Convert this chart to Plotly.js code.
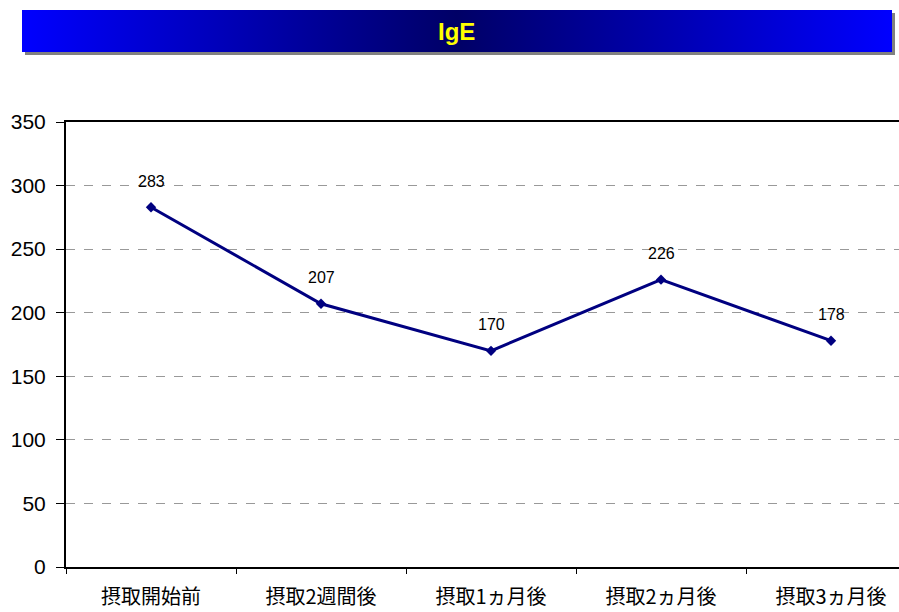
<!DOCTYPE html>
<html>
<head>
<meta charset="utf-8">
<script src="https://cdn.plot.ly/plotly-3.0.1.min.js"></script>
<style>html,body{margin:0;padding:0;background:#fff;}#chart{width:899px;height:612px;}</style>
</head>
<body>
<div id="chart"></div>
<script>
const categories = ["摂取開始前", "摂取2週間後", "摂取1ヵ月後", "摂取2ヵ月後", "摂取3ヵ月後"];
const values = [283, 207, 170, 226, 178];
const yTicks = [0, 50, 100, 150, 200, 250, 300, 350];
const titleText = "IgE";

const svg = '<svg xmlns="http://www.w3.org/2000/svg" width="873" height="45">' +
  '<defs><linearGradient id="g" x1="0" y1="0" x2="1" y2="0">' +
  '<stop offset="0" stop-color="#0000ff"/><stop offset="0.5" stop-color="#000066"/><stop offset="1" stop-color="#0000ff"/>' +
  '</linearGradient></defs>' +
  '<rect x="3" y="3" width="870" height="42" fill="#808080"/>' +
  '<rect x="0" y="0" width="870" height="42" fill="url(#g)"/></svg>';
const banner = 'data:image/svg+xml;base64,' + btoa(svg);

const trace = {
  x: categories,
  y: values,
  type: 'scatter',
  mode: 'lines+markers',
  line: {color: '#000080', width: 3},
  marker: {symbol: 'diamond', size: 8, color: '#000080'},
  hoverinfo: 'none'
};

const annotations = categories.map((c, i) => ({
  x: c, y: values[i], xref: 'x', yref: 'y',
  text: String(values[i]), showarrow: false, yshift: 26,
  font: {family: 'Liberation Sans, Arial, sans-serif', size: 16, color: '#000'}
}));

const layout = {
  width: 899, height: 612,
  margin: {l: 66, r: 0, t: 122, b: 45},
  paper_bgcolor: '#fff', plot_bgcolor: '#fff',
  showlegend: false,
  title: {
    text: '<b>' + titleText + '</b>',
    x: 0.508, xanchor: 'center', y: 1 - 32/612, yanchor: 'middle', yref: 'container',
    font: {family: 'Liberation Sans, Arial, sans-serif', size: 24, color: '#ffff00'}
  },
  xaxis: {
    type: 'category',
    range: [-0.5, 4.4],
    tickson: 'boundaries',
    ticks: 'outside', ticklen: 5, tickcolor: '#000', tickwidth: 1,
    showline: true, linecolor: '#000', linewidth: 2, mirror: true,
    showgrid: false,
    tickfont: {family: 'Noto Sans CJK JP, sans-serif', size: 20, color: '#000'},
    ticklabelstandoff: 11,
    fixedrange: true
  },
  yaxis: {
    range: [0, 350],
    tickvals: yTicks,
    ticktext: yTicks.map(String),
    ticks: 'outside', ticklen: 8, tickcolor: '#000', tickwidth: 1,
    showline: true, linecolor: '#000', linewidth: 2,
    showgrid: true, gridcolor: '#999', griddash: 'dash', gridwidth: 1,
    zeroline: false,
    tickfont: {family: 'Liberation Sans, Arial, sans-serif', size: 21, color: '#000'},
    ticklabelstandoff: 6,
    fixedrange: true
  },
  images: [
    {source: banner, xref: 'paper', yref: 'paper',
     x: (22-66)/833, y: 1 + (122-10)/445, sizex: 873/833, sizey: 45/445,
     xanchor: 'left', yanchor: 'top', sizing: 'stretch', layer: 'below'}
  ],
  annotations: annotations
};

Plotly.newPlot('chart', [trace], layout, {displayModeBar: false, staticPlot: true});
</script>
</body>
</html>
